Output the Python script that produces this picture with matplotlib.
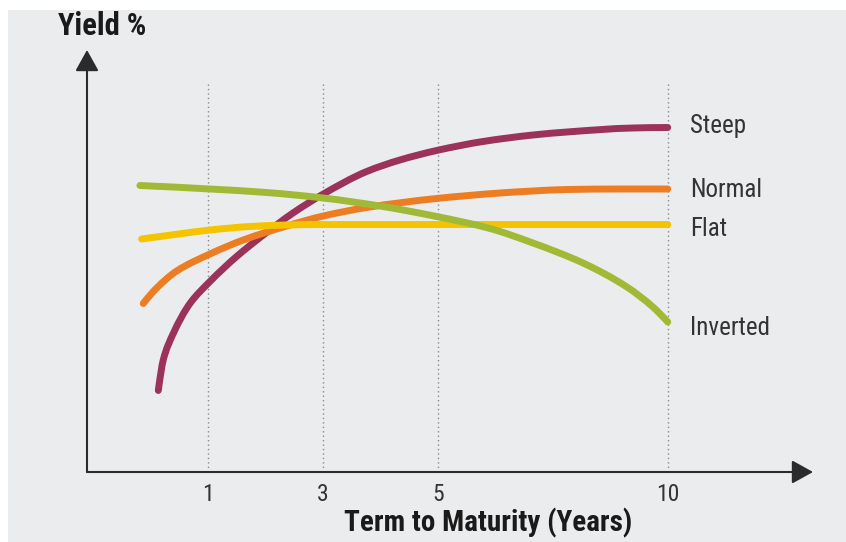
import matplotlib
matplotlib.use("Agg")
import numpy as np
import matplotlib.pyplot as plt
from matplotlib.patches import Rectangle, PathPatch
from matplotlib.path import Path

# ---- data (x in tick-position units: 1 -> "1", 2 -> "3", 3 -> "5", 5 -> "10") ----
tick_positions = [1, 2, 3, 5]
tick_labels = ["1", "3", "5", "10"]

steep_x = [0.570, 0.613, 0.700, 0.845, 1.019, 1.251, 1.483, 1.741, 1.990, 2.382, 2.671,
           2.990, 3.393, 3.828, 4.123, 4.697, 5.0]
steep_y = [1.63, 2.24, 2.77, 3.37, 3.81, 4.31, 4.74, 5.18, 5.54, 6.01, 6.24,
           6.43, 6.61, 6.74, 6.80, 6.88, 6.89]

normal_x = [0.439, 0.556, 0.730, 1.019, 1.309, 1.686, 2.004, 2.382, 2.990, 3.541, 3.828,
            4.123, 4.584, 5.0]
normal_y = [3.37, 3.68, 4.02, 4.36, 4.64, 4.92, 5.12, 5.29, 5.47, 5.58, 5.62,
            5.65, 5.66, 5.66]

flat_x = [0.425, 0.715, 1.019, 1.367, 1.686, 2.002, 2.984, 5.0]
flat_y = [4.66, 4.75, 4.84, 4.91, 4.94, 4.95, 4.95, 4.95]

inverted_x = [0.410, 1.019, 1.512, 2.004, 2.523, 2.990, 3.454, 3.828, 4.263, 4.645, 4.871, 5.0]
inverted_y = [5.73, 5.66, 5.59, 5.48, 5.31, 5.11, 4.87, 4.58, 4.18, 3.70, 3.30, 3.00]

series_names = ["Steep", "Normal", "Flat", "Inverted"]
series_colors = ["#9b325a", "#ed7d23", "#f5c400", "#a0ba37"]


def smooth_path(x, y):
    """Monotone (Fritsch-Carlson) cubic through the data points, drawn as Bezier segments."""
    x = np.asarray(x, float)
    y = np.asarray(y, float)
    h = np.diff(x)
    d = np.diff(y) / h
    n = len(x)
    m = np.zeros(n)
    for k in range(1, n - 1):
        if d[k - 1] * d[k] <= 0:
            m[k] = 0.0
        else:
            w1 = 2 * h[k] + h[k - 1]
            w2 = h[k] + 2 * h[k - 1]
            m[k] = (w1 + w2) / (w1 / d[k - 1] + w2 / d[k])
    m[0] = ((2 * h[0] + h[1]) * d[0] - h[0] * d[1]) / (h[0] + h[1])
    if np.sign(m[0]) != np.sign(d[0]):
        m[0] = 0.0
    elif np.sign(d[0]) != np.sign(d[1]) and abs(m[0]) > abs(3 * d[0]):
        m[0] = 3 * d[0]
    m[-1] = ((2 * h[-1] + h[-2]) * d[-1] - h[-1] * d[-2]) / (h[-1] + h[-2])
    if np.sign(m[-1]) != np.sign(d[-1]):
        m[-1] = 0.0
    elif np.sign(d[-1]) != np.sign(d[-2]) and abs(m[-1]) > abs(3 * d[-1]):
        m[-1] = 3 * d[-1]
    verts = [(x[0], y[0])]
    codes = [Path.MOVETO]
    for k in range(n - 1):
        verts += [(x[k] + h[k] / 3, y[k] + m[k] * h[k] / 3),
                  (x[k + 1] - h[k] / 3, y[k + 1] - m[k + 1] * h[k] / 3),
                  (x[k + 1], y[k + 1])]
        codes += [Path.CURVE4] * 3
    return Path(verts, codes)


# ---- figure ----
W, H = 846, 542
fig = plt.figure(figsize=(W / 100, H / 100), dpi=100, facecolor="white")
fig.patches.append(Rectangle((8 / W, 0), 1 - 8 / W, 1 - 10 / H, transform=fig.transFigure,
                             facecolor="#ebecee", edgecolor="none", zorder=-10))

FONT = ["Roboto Condensed", "Archivo Narrow", "DejaVu Sans"]

left_px, right_px, top_px, bottom_px = 87, 813, 50, 472
ax = fig.add_axes([left_px / W, 1 - bottom_px / H, (right_px - left_px) / W, (bottom_px - top_px) / H])
ax.set_facecolor("none")
ax.set_xlim(-0.05, 6.263)
ax.set_ylim(0, 8.44)
for s in ax.spines.values():
    s.set_visible(False)
ax.set_yticks([])
ax.set_xticks(tick_positions)
ax.set_xticklabels(tick_labels, fontsize=17, family=FONT, color="#333333")
ax.tick_params(axis="x", length=0, pad=8)

# dotted guides
for xp in tick_positions:
    ax.plot([xp, xp], [0, 7.8], linestyle=(0, (1, 2.2)), color="#8a8a8a", lw=1.0, zorder=1)

# axes with arrows
arrow_kw = dict(arrowstyle="-|>,head_length=0.9,head_width=0.5", mutation_scale=14.4,
                color="#2b2b2b", lw=1.5, shrinkA=0, shrinkB=0)
ax.annotate("", xy=(1, 0), xytext=(0, 0), xycoords="axes fraction", textcoords="axes fraction",
            arrowprops=arrow_kw, annotation_clip=False)
ax.annotate("", xy=(0, 1), xytext=(0, 0), xycoords="axes fraction", textcoords="axes fraction",
            arrowprops=arrow_kw, annotation_clip=False)

# curves
xs = [steep_x, normal_x, flat_x, inverted_x]
ys = [steep_y, normal_y, flat_y, inverted_y]
label_dy = [1, -0.5, -3, -4.5]
for x, y, name, c, dy in zip(xs, ys, series_names, series_colors, label_dy):
    ax.add_patch(PathPatch(smooth_path(x, y), facecolor="none", edgecolor=c, lw=5,
                           capstyle="round", joinstyle="round", zorder=3))
    ax.annotate(name, xy=(x[-1], y[-1]), xytext=(16, dy), textcoords="offset points",
                ha="left", va="center", fontsize=18, family=FONT, color="#333333")

fig.text(58 / W, 1 - 26 / H, "Yield %", ha="left", va="center", fontsize=22,
         fontweight="bold", family=FONT, color="#1a1a1a")
fig.text(488 / W, 1 - 523 / H, "Term to Maturity (Years)", ha="center", va="center",
         fontsize=21, fontweight="bold", family=FONT, color="#1a1a1a")

fig.savefig("out.png", dpi=100, facecolor=fig.get_facecolor())
